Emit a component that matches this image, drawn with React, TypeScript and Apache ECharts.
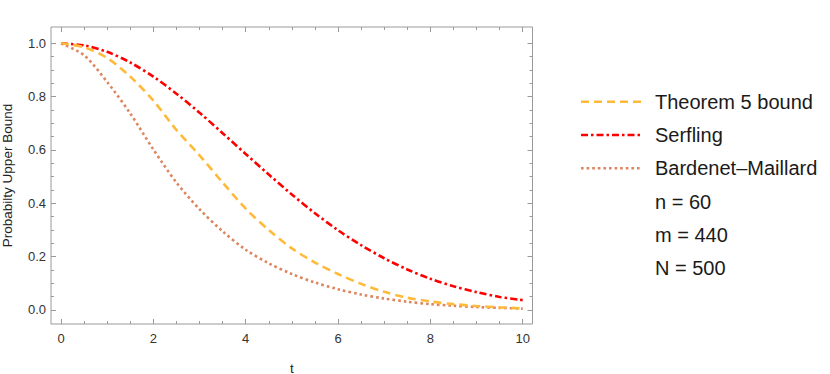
import React, { useEffect, useRef } from "react";
import * as echarts from "echarts";

// t values sampled every 0.5
const tValues = [0, 0.5, 1, 1.5, 2, 2.5, 3, 3.5, 4, 4.5, 5, 5.5, 6, 6.5, 7, 7.5, 8, 8.5, 9, 9.5, 10];
const theorem5 = [1.0, 0.985, 0.945, 0.875, 0.785, 0.675, 0.58, 0.478, 0.38, 0.3, 0.231, 0.178, 0.135, 0.098, 0.068, 0.046, 0.032, 0.022, 0.015, 0.01, 0.006];
const serfling = [1.0, 0.992, 0.968, 0.928, 0.875, 0.811, 0.74, 0.663, 0.585, 0.508, 0.433, 0.363, 0.299, 0.243, 0.194, 0.152, 0.117, 0.089, 0.067, 0.049, 0.037];
const bardenet = [1.0, 0.955, 0.855, 0.737, 0.602, 0.478, 0.378, 0.295, 0.226, 0.175, 0.135, 0.103, 0.078, 0.058, 0.043, 0.031, 0.022, 0.016, 0.011, 0.008, 0.005];

// tick positions
const xMajorTicks = [0, 2, 4, 6, 8, 10];
const xMinorTicks = [0.5, 1, 1.5, 2.5, 3, 3.5, 4.5, 5, 5.5, 6.5, 7, 7.5, 8.5, 9, 9.5];
const yMajorTicks = [0, 0.2, 0.4, 0.6, 0.8, 1.0];
const yMinorTicks = [0.05, 0.1, 0.15, 0.25, 0.3, 0.35, 0.45, 0.5, 0.55, 0.65, 0.7, 0.75, 0.85, 0.9, 0.95];

const seriesNames = ["Theorem 5 bound", "Serfling", "Bardenet\u2013Maillard"];
const paramLabels = ["n = 60", "m = 440", "N = 500"];
const colors = ["#FFBA3A", "#FF0000", "#DC855E"];
const dashes = [[8, 5], [7, 3, 2.5, 3], [2.6, 3]];

const FONT = "'Liberation Sans', Arial, sans-serif";
const X_MIN = -0.2166;
const X_MAX = 10.212;
const Y_MIN = -0.0525;
const Y_MAX = 1.0611;

export default function App() {
  const ref = useRef<HTMLDivElement>(null);
  useEffect(() => {
    if (!ref.current) return;
    const chart = echarts.init(ref.current, undefined, { renderer: "svg" });
    const seriesData = [theorem5, serfling, bardenet];

    const tickStyle = { color: "#9a9a9a", width: 1 };
    const mkX = (position: "top" | "bottom", ticks: number[], len: number, labels: boolean) => ({
      type: "value" as const,
      min: X_MIN,
      max: X_MAX,
      position,
      axisLine: { show: false, onZero: false },
      splitLine: { show: false },
      axisTick: { show: true, inside: true, length: len, lineStyle: tickStyle, customValues: ticks },
      axisLabel: labels
        ? { show: true, customValues: ticks, color: "#333", fontSize: 13, margin: 8, fontFamily: FONT, formatter: (v: number) => String(Math.round(v)) }
        : { show: false },
    });
    const mkY = (position: "left" | "right", ticks: number[], len: number, labels: boolean) => ({
      type: "value" as const,
      min: Y_MIN,
      max: Y_MAX,
      position,
      axisLine: { show: false, onZero: false },
      splitLine: { show: false },
      axisTick: { show: true, inside: true, length: len, lineStyle: tickStyle, customValues: ticks },
      axisLabel: labels
        ? { show: true, customValues: ticks, color: "#333", fontSize: 13, margin: 5, fontFamily: FONT, formatter: (v: number) => v.toFixed(1) }
        : { show: false },
    });

    const legendX1 = 581;
    const legendX2 = 641;
    const rowY0 = 101.7;
    const rowStep = 33.3;
    const graphics: any[] = [
      {
        type: "rect",
        shape: { x: 51, y: 27, width: 481.5, height: 297 },
        style: { fill: "none", stroke: "#9a9a9a", lineWidth: 1 },
        z: 0,
      },
    ];
    const textStyle = (text: string) => ({ text, fontSize: 20, fontFamily: FONT, fill: "#1a1a1a", verticalAlign: "middle", align: "left" });
    seriesNames.forEach((name, i) => {
      const y = rowY0 + i * rowStep;
      graphics.push({
        type: "line",
        shape: { x1: legendX1, y1: y, x2: legendX2, y2: y },
        style: { stroke: colors[i], lineWidth: 2.6, lineDash: dashes[i] },
      });
      graphics.push({ type: "text", x: 655, y, style: textStyle(name) });
    });
    paramLabels.forEach((p, j) => {
      const y = rowY0 + (j + 3) * rowStep;
      graphics.push({ type: "text", x: 655, y, style: textStyle(p) });
    });

    const xMain: any = mkX("bottom", xMajorTicks, 5, true);
    xMain.name = "t";
    xMain.nameLocation = "middle";
    xMain.nameGap = 37;
    xMain.nameTextStyle = { color: "#222", fontSize: 13.5, fontFamily: FONT };
    const yMain: any = mkY("left", yMajorTicks, 5, true);
    yMain.name = "Probabilty Upper Bound";
    yMain.nameLocation = "middle";
    yMain.nameRotate = 90;
    yMain.nameGap = 37;
    yMain.nameTextStyle = { color: "#222", fontSize: 13.5, fontFamily: FONT };

    chart.setOption({
      animation: false,
      backgroundColor: "#ffffff",
      textStyle: { fontFamily: FONT },
      grid: { left: 51, top: 27, width: 481.5, height: 297, containLabel: false, outerBoundsMode: "none" },
      xAxis: [
        xMain,
        mkX("bottom", xMinorTicks, 3, false),
        mkX("top", xMajorTicks, 5, false),
        mkX("top", xMinorTicks, 3, false),
      ],
      yAxis: [
        yMain,
        mkY("left", yMinorTicks, 3, false),
        mkY("right", yMajorTicks, 5, false),
        mkY("right", yMinorTicks, 3, false),
      ],
      series: seriesNames.map((name, i) => ({
        name,
        type: "line",
        xAxisIndex: 0,
        yAxisIndex: 0,
        data: tValues.map((t, k) => [t, seriesData[i][k]]),
        smooth: 0.3,
        showSymbol: false,
        symbol: "none",
        clip: false,
        lineStyle: { color: colors[i], width: 2.6, type: dashes[i], cap: "butt" },
        z: 3 - i,
      })),
      graphic: graphics,
    });
    return () => chart.dispose();
  }, []);
  return <div ref={ref} style={{ position: "absolute", left: 0, top: 0, width: 830, height: 374 }} />;
}
